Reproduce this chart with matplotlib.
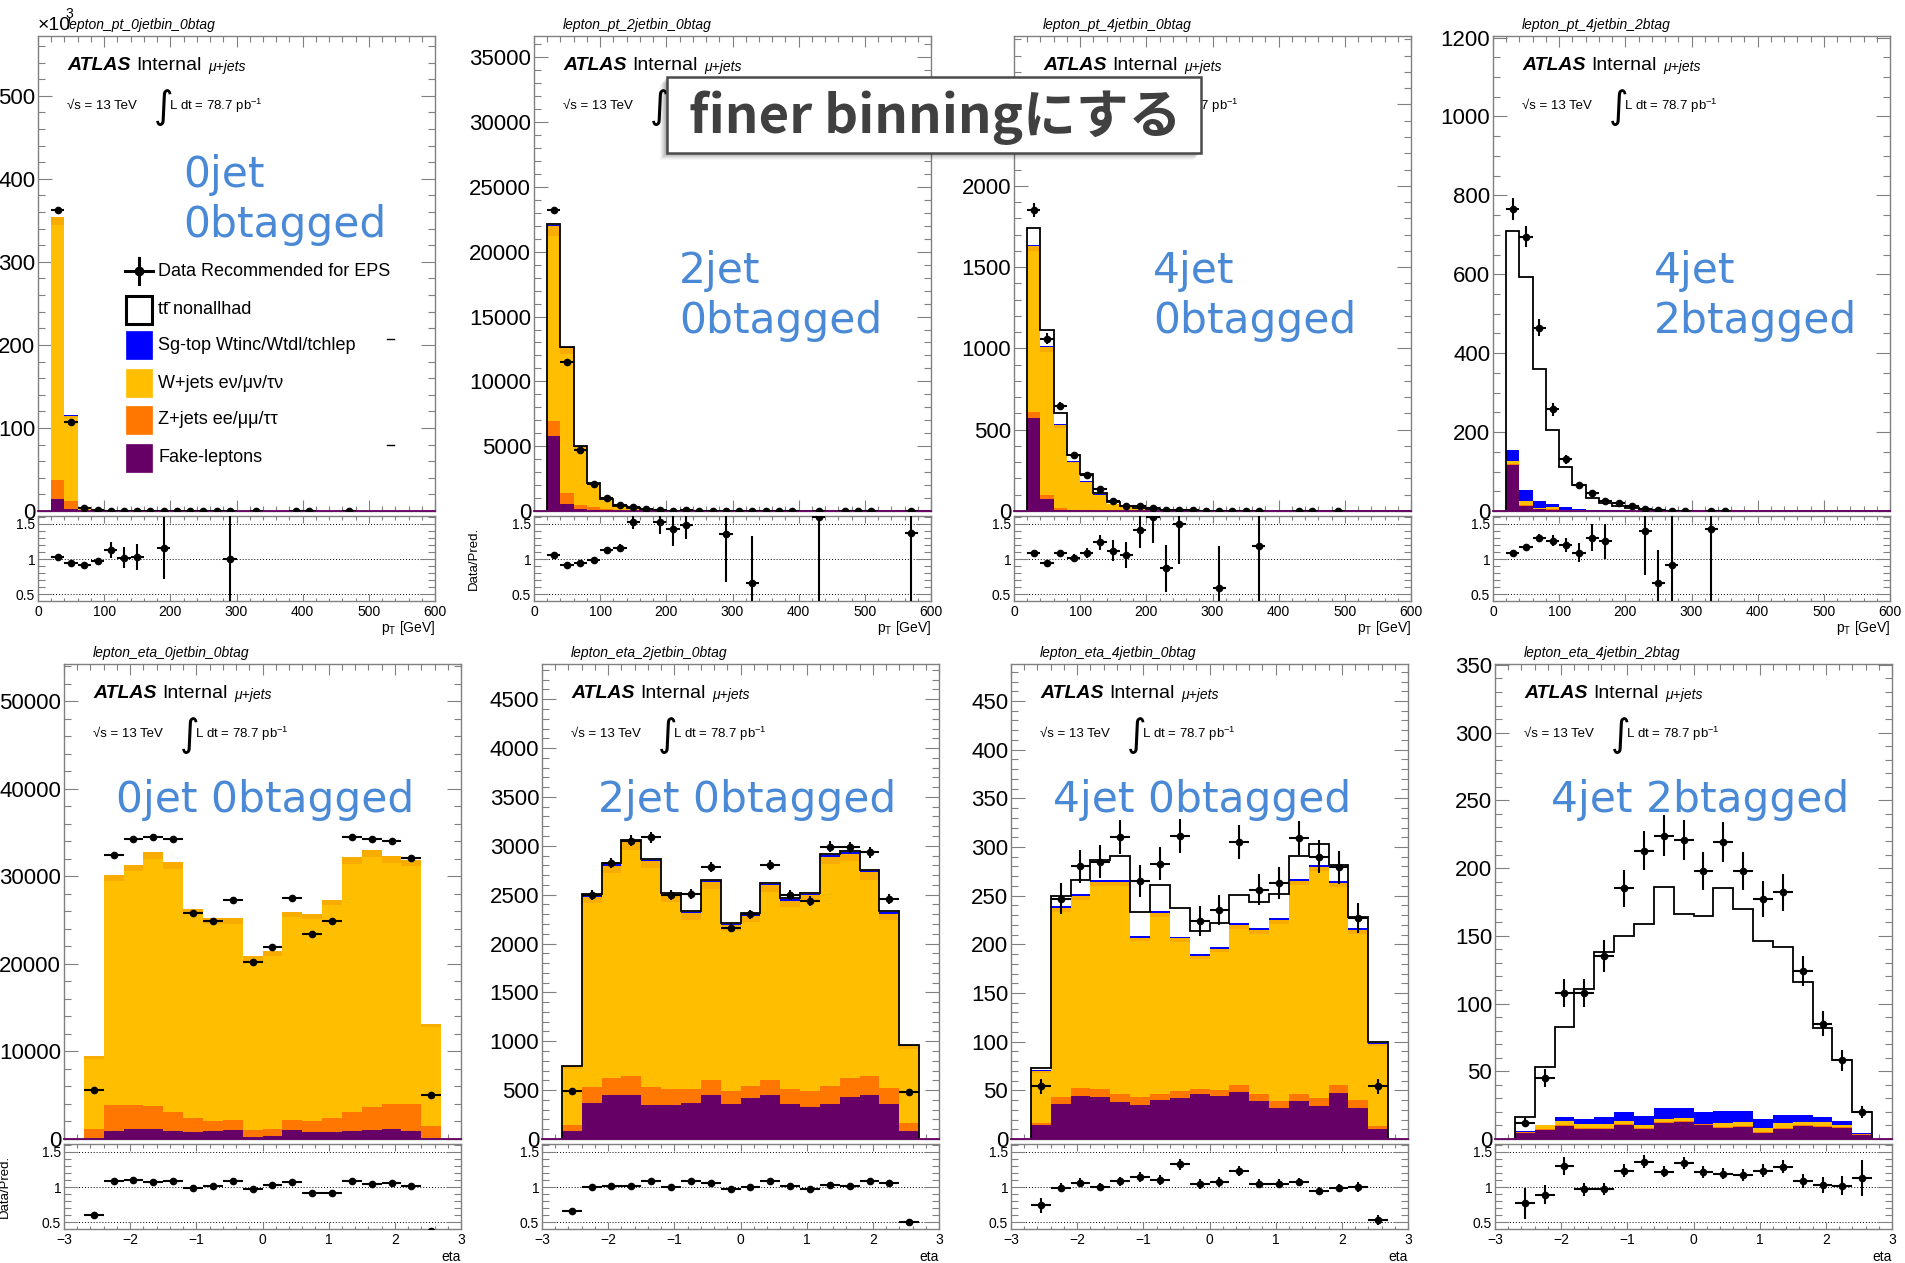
import numpy as np
import matplotlib
matplotlib.use("Agg")
import matplotlib.pyplot as plt
from matplotlib.ticker import MultipleLocator, FixedLocator, FuncFormatter
from matplotlib.patches import Rectangle

plt.rcParams['font.family'] = ['Liberation Sans', 'DejaVu Sans']
plt.rcParams['mathtext.fontset'] = 'custom'
plt.rcParams['mathtext.rm'] = 'Liberation Sans'
plt.rcParams['mathtext.it'] = 'Liberation Sans:italic'

nan = np.nan

# ---------------- data: lepton pT (20 GeV bins from 20 to 600) ----------------
pt_edges = np.arange(20, 601, 20)

pt_0j0b_data  = [363000, 107000, 3500, 850, 105, 46, 30, 6, 7, 4, 3, 2, 2, 2, 0, 1, 0, 0, 1, 1, 0, 0, 1]
pt_0j0b_ratio = [1.03, 0.94, 0.91, 0.97, 1.13, 1.02, 1.03, nan, 1.16, nan, nan, nan, nan, 1.00]
pt_0j0b_fake  = [14700, 2500, 300, 60, 8, 3, 2, 0, 1]
pt_0j0b_zjets = [23200, 9300, 700, 150, 15, 8, 5, 0, 1]
pt_0j0b_wjets = [307000, 100000, 2700, 630, 65, 32, 21, 0, 4, 0, 0, 0, 0, 2]
pt_0j0b_other = [9000, 3200, 150, 30, 4, 2, 1]
pt_0j0b_sgtop = [150, 60, 20, 6, 1]
pt_0j0b_ttbar = [80, 50, 20, 8, 2]

pt_2j0b_data  = [23239, 11509, 4717, 2107, 1000, 470, 300, 150, 80, 38, 55, 20, 12, 4, 5, 1, 3, 2, 2, 0,
                 1, 0, 1, 1, 1, 0, 0, 2]
pt_2j0b_ratio = [1.06, 0.91, 0.94, 0.99, 1.13, 1.16, 1.52, nan, 1.52, 1.42, 1.48, nan, nan, 1.35, nan, 0.66,
                 nan, nan, nan, nan, 1.59, nan, nan, nan, nan, nan, nan, 1.37]
pt_2j0b_fake  = [5786, 535, 126, 40, 15, 6, 3, 1]
pt_2j0b_zjets = [1132, 849, 314, 243, 142, 60, 25, 10, 4, 2, 1]
pt_2j0b_wjets = [14277, 10691, 4300, 1770, 700, 320, 160, 80, 45, 23, 34, 0, 0, 3, 0, 1.5, 0, 0, 0, 0,
                 0.6, 0, 0, 0, 0, 0, 0, 1.5]
pt_2j0b_other = [818, 504, 230, 80, 30, 12, 6, 3, 1.5, 1, 1]
pt_2j0b_sgtop = [70, 40, 18, 8, 3, 2, 1, 0.5, 0.3]
pt_2j0b_ttbar = [40, 25, 12, 5, 2, 1, 0.5, 0.3, 0.2]

pt_4j0b_data  = [1854, 1059, 645, 344, 223, 135, 60, 32, 30, 18, 7, 7, 5, 2, 1, 1, 1, 2, 0, 0, 1, 1, 0, 1]
pt_4j0b_ratio = [1.08, 0.95, 1.09, 1.02, 1.09, 1.24, 1.12, 1.06, 1.41, 1.60, 0.87, 1.49, nan, nan, 0.59,
                 nan, nan, 1.19]
pt_4j0b_fake  = [570, 73, 9, 4, 2, 1, 0.5, 0.3]
pt_4j0b_zjets = [37, 27, 11, 5, 3, 2, 1, 0.5, 0.3]
pt_4j0b_wjets = [993, 880, 490, 285, 170, 94, 41, 23, 13, 7, 6, 3.5, 0, 0, 1.7, 0, 0, 1.7]
pt_4j0b_other = [28, 28, 17, 8, 6, 3, 1.5, 1, 0.5, 0.3]
pt_4j0b_sgtop = [8, 6, 8, 5, 3, 3, 2, 1, 1, 0.5]
pt_4j0b_ttbar = [105, 100, 65, 37, 41, 6, 8, 4, 6, 3.5, 2, 1.2]

pt_4j2b_data  = [765, 695, 465, 258, 131, 66, 46, 25, 21, 12, 5, 2, 1, 1, 0, 1, 1]
pt_4j2b_ratio = [1.08, 1.17, 1.30, 1.26, 1.20, 1.09, 1.30, 1.25, nan, nan, 1.40, 0.66, 0.91, nan, nan, 1.42]
pt_4j2b_fake  = [116, 12, 4, 3, 1, 0.5, 0.3, 0.2]
pt_4j2b_zjets = [2, 2, 1, 1, 0.5, 0.3]
pt_4j2b_wjets = [8, 11, 3, 5, 2, 1, 0.5, 0.5, 0.3, 0.2]
pt_4j2b_other = [0]
pt_4j2b_sgtop = [29, 27, 17, 9, 7, 4, 3, 2, 1, 0.5, 0.3, 0.2]
pt_4j2b_ttbar = [554, 542, 334, 188, 100, 60, 30, 18, 11, 7, 3.2, 2.8, 1.1, 1, 0, 0.7]

# ---------------- data: lepton eta (0.3 bins from -2.7 to 2.7), stack tops ----------------
eta_edges = np.round(np.arange(-2.7, 2.71, 0.3), 2)

eta_0j0b_data  = [5632, 32410, 34300, 34490, 34210, 25760, 24930, 27330, 20270, 21880, 27560, 23450,
                  24930, 34440, 34300, 33980, 32040, 5030]
eta_0j0b_ratio = [0.61, 1.08, 1.10, 1.07, 1.09, 0.99, 1.02, 1.09, 0.98, 1.03, 1.07, 0.91, 0.91, 1.08,
                  1.05, 1.06, 1.01, 0.38]
eta_0j0b_fake_top = [140, 880, 1150, 1110, 920, 780, 880, 1060, 230, 370, 1060, 780, 780, 920, 1060,
                     1150, 880, 90]
eta_0j0b_z_top = [1150, 3920, 3920, 3790, 3140, 2400, 2080, 2170, 1060, 1150, 2170, 2080, 2450, 3140,
                  3690, 3970, 3970, 1480]
eta_0j0b_w_top = [9100, 29450, 30600, 32000, 30850, 25650, 24600, 24600, 20350, 20950, 25300, 25080,
                  26700, 31450, 32200, 31550, 31150, 12800]
eta_0j0b_total = [9510, 30190, 31350, 32780, 31580, 26320, 25250, 25250, 20870, 21470, 25950, 25720,
                  27330, 32180, 32960, 32270, 31860, 13160]

eta_2j0b_data  = [492, 2496, 2822, 3054, 3087, 2500, 2508, 2785, 2161, 2298, 2806, 2496, 2434, 2992,
                  2983, 2934, 2455, 479]
eta_2j0b_ratio = [0.66, 1.00, 1.01, 1.01, 1.09, 1.00, 1.08, 1.06, 0.98, 1.00, 1.08, 1.01, 0.97, 1.03,
                  1.02, 1.08, 1.06, 0.50]
eta_2j0b_fake_top = [83, 364, 450, 446, 343, 347, 364, 455, 355, 417, 455, 355, 331, 355, 430, 455, 355, 83]
eta_2j0b_z_top = [145, 533, 624, 640, 533, 508, 512, 607, 488, 545, 607, 512, 492, 545, 624, 640, 521, 165]
eta_2j0b_w_top = [712, 2418, 2726, 2960, 2770, 2420, 2245, 2555, 2128, 2222, 2525, 2372, 2430, 2810,
                  2840, 2650, 2240, 918]
eta_2j0b_other_top = [742, 2478, 2796, 3036, 2842, 2487, 2310, 2627, 2188, 2286, 2594, 2438, 2496, 2887,
                      2920, 2727, 2307, 952]
eta_2j0b_sg_top = [748, 2492, 2810, 3050, 2856, 2500, 2323, 2641, 2200, 2298, 2608, 2451, 2509, 2901,
                   2934, 2740, 2320, 958]
eta_2j0b_total = [752, 2504, 2822, 3062, 2868, 2512, 2335, 2653, 2211, 2310, 2620, 2463, 2521, 2913,
                  2946, 2752, 2331, 963]

eta_4j0b_data  = [54, 247, 280, 285, 310, 265, 283, 311, 224, 235, 305, 256, 263, 309, 290, 279, 227, 54]
eta_4j0b_ratio = [0.74, 0.99, 1.06, 1.00, 1.08, 1.14, 1.10, 1.32, 1.05, 1.07, 1.23, 1.05, 1.05, 1.07,
                  0.95, 0.99, 1.00, 0.53]
eta_4j0b_fake_top = [14, 36, 44, 43, 38, 35, 40, 42, 46, 44, 48, 39, 32, 39, 34, 47, 32, 10]
eta_4j0b_z_top = [16, 43, 52, 51, 46, 43, 46, 49, 51, 50, 55, 46, 39, 46, 42, 55, 40, 13]
eta_4j0b_w_top = [68, 233, 246, 260, 260, 203, 228, 202, 185, 192, 216, 211, 221, 261, 275, 259, 211, 96]
eta_4j0b_other_top = [70, 237, 250, 264, 264, 207, 232, 206, 188, 195, 220, 215, 225, 265, 279, 263, 215, 98]
eta_4j0b_sg_top = [71, 239, 252, 266, 266, 209, 234, 208, 190, 197, 222, 217, 227, 267, 281, 265, 217, 99]
eta_4j0b_total = [73, 250, 266, 287, 291, 233, 261, 237, 214, 222, 251, 244, 252, 291, 303, 281, 228, 100]

eta_4j2b_data  = [12, 45, 108, 108, 135, 185, 213, 224, 221, 198, 219, 198, 177, 182, 124, 85, 58, 20]
eta_4j2b_ratio = [0.77, 0.89, 1.30, 0.97, 0.97, 1.23, 1.36, 1.22, 1.34, 1.21, 1.19, 1.17, 1.23, 1.29,
                  1.09, 1.03, 1.02, 1.13]
eta_4j2b_fake_top = [4.5, 6.6, 9.6, 7.5, 7.5, 10, 7.5, 12, 12.6, 10.5, 8.4, 9, 4.2, 7.5, 9.6, 9, 8, 3]
eta_4j2b_z_top = [5, 7.4, 10.4, 8.3, 8.3, 10.8, 8.3, 12.8, 13.4, 11.3, 9.2, 9.8, 5, 8.3, 10.4, 9.8, 8.8, 3.5]
eta_4j2b_w_top = [5.2, 10, 13, 11, 11, 13.5, 10, 14.4, 15.6, 11.4, 12, 12.6, 8.4, 12, 12.6, 12.6, 10.5, 3.9]
eta_4j2b_sg_top = [5.6, 10.5, 16, 15, 16, 20, 17, 23, 23, 20, 21, 21, 15, 18, 18, 16, 13.5, 4.5]
eta_4j2b_total = [16, 53, 83, 111, 138, 150, 159, 186, 166, 165, 185, 170, 146, 142, 116, 82, 58, 20]

titles = ['lepton_pt_0jetbin_0btag', 'lepton_pt_2jetbin_0btag', 'lepton_pt_4jetbin_0btag',
          'lepton_pt_4jetbin_2btag', 'lepton_eta_0jetbin_0btag', 'lepton_eta_2jetbin_0btag',
          'lepton_eta_4jetbin_0btag', 'lepton_eta_4jetbin_2btag']
region_labels = [['0jet', '0btagged'], ['2jet', '0btagged'], ['4jet', '0btagged'], ['4jet', '2btagged'],
                 ['0jet 0btagged'], ['2jet 0btagged'], ['4jet 0btagged'], ['4jet 2btagged']]
legend_labels = ['Data Recommended for EPS', 'tt\u0304 nonallhad', 'Sg-top Wtinc/Wtdl/tchlep',
                 'W+jets e\u03bd/\u03bc\u03bd/\u03c4\u03bd', 'Z+jets ee/\u03bc\u03bc/\u03c4\u03c4',
                 'Fake-leptons']

C_FAKE, C_Z, C_W, C_OTHER, C_SG, C_TT = '#660066', '#ff7700', '#ffbf00', '#f8ac00', '#0000ff', '#ffffff'
LAYER_COLS = [C_FAKE, C_Z, C_W, C_OTHER, C_SG, C_TT]
BLUE = '#4a89d6'
FRAME = '#808080'

W, H = 1905, 1263
fig = plt.figure(figsize=(W / 100, H / 100), dpi=100)


def fx(x):
    return x / W


def fy(y):
    return 1 - y / H


def pad(vals, n):
    v = list(vals)
    return np.array(v + [0] * (n - len(v)), dtype=float)


def pt_tops(comps):
    n = len(pt_edges) - 1
    return list(np.cumsum([pad(c, n) for c in comps], axis=0))


def style(a, ylen, xlen):
    for s in a.spines.values():
        s.set_color(FRAME)
        s.set_linewidth(1.0)
    a.tick_params(which='both', direction='in', top=True, right=True, colors=FRAME,
                  labelcolor='black', width=0.8)
    a.tick_params(axis='y', which='major', length=ylen * 0.72, pad=2)
    a.tick_params(axis='y', which='minor', length=ylen * 0.36)
    a.tick_params(axis='x', which='major', length=xlen * 0.72, pad=3)
    a.tick_params(axis='x', which='minor', length=xlen * 0.36)


def panel(left, top, edges, tops, data, ratio, ylim, ymaj, ymin, xlim, xmaj, xmin,
          outline=True, kilo=False):
    width, main_h, ratio_h = 397, 475, 85
    ax = fig.add_axes([fx(left), fy(top + main_h), width / W, main_h / H])
    rax = fig.add_axes([fx(left), fy(top + main_h + 5 + ratio_h), width / W, ratio_h / H])
    centers = 0.5 * (edges[1:] + edges[:-1])
    halfw = 0.5 * (edges[1] - edges[0])

    base = np.zeros(len(centers))
    for t, col in zip(tops, LAYER_COLS):
        t = np.asarray(t, float)
        ax.stairs(t, edges, baseline=base, fill=True, color=col, lw=0, zorder=2)
        base = t
    if outline:
        ax.stairs(np.asarray(tops[-1], float), edges, baseline=0, fill=False,
                  color='black', lw=1.3, zorder=2.2)
    ax.plot(xlim, [0, 0], color=C_FAKE, lw=1.3, zorder=3, clip_on=False)

    d = pad(data, len(centers))
    m = d > 0
    ax.errorbar(centers[m], d[m], xerr=halfw, yerr=np.sqrt(d[m]), fmt='o', color='black',
                ms=4.5, elinewidth=1.5, capsize=0, zorder=5)
    ax.set_xlim(*xlim)
    ax.set_ylim(0, ylim)
    ax.yaxis.set_major_locator(MultipleLocator(ymaj))
    ax.yaxis.set_minor_locator(MultipleLocator(ymin))
    ax.xaxis.set_major_locator(MultipleLocator(xmaj))
    ax.xaxis.set_minor_locator(MultipleLocator(xmin))
    ax.tick_params(axis='x', labelbottom=False)
    ax.tick_params(axis='y', labelsize=16)
    if kilo:
        ax.yaxis.set_major_formatter(FuncFormatter(lambda v, p: '%d' % round(v / 1000)))
    else:
        ax.yaxis.set_major_formatter(FuncFormatter(lambda v, p: '%d' % round(v)))
    style(ax, 14, 11)

    r = pad(ratio, len(centers))
    r[len(list(ratio)):] = nan
    mr = ~np.isnan(r) & (d > 0)
    for yv in (0.5, 1.0, 1.5):
        rax.axhline(yv, color='black', ls=(0, (1, 2)), lw=0.7, zorder=1)
    rax.errorbar(centers[mr], r[mr], xerr=halfw, yerr=r[mr] / np.sqrt(d[mr]), fmt='o',
                 color='black', ms=4.5, elinewidth=1.5, capsize=0, zorder=5)
    rax.set_xlim(*xlim)
    rax.set_ylim(0.407, 1.61)
    rax.yaxis.set_major_locator(FixedLocator([0.5, 1.0, 1.5]))
    rax.yaxis.set_major_formatter(FuncFormatter(lambda v, p: {0.5: '0.5', 1.0: '1', 1.5: '1.5'}.get(round(v, 1), '')))
    rax.yaxis.set_minor_locator(MultipleLocator(0.1))
    rax.xaxis.set_major_locator(MultipleLocator(xmaj))
    rax.xaxis.set_minor_locator(MultipleLocator(xmin))
    rax.tick_params(labelsize=10)
    style(rax, 14, 7)
    return ax, rax


def decorate(left, top, title, lines, lab_x, lab_y, line_gap=50):
    fig.text(fx(left + 29), fy(top - 11), title, fontsize=10, style='italic', va='center', ha='left')
    fig.text(fx(left + 29), fy(top + 29), 'ATLAS', fontsize=14, weight='bold', style='italic',
             va='center', ha='left')
    fig.text(fx(left + 98), fy(top + 29), 'Internal', fontsize=14, va='center', ha='left')
    fig.text(fx(left + 170), fy(top + 31), '\u03bc+jets', fontsize=10, style='italic',
             va='center', ha='left')
    fig.text(fx(left + 29), fy(top + 70), '\u221as = 13 TeV', fontsize=9.5, va='center', ha='left')
    fig.text(fx(left + 116), fy(top + 72), '\u222b', fontsize=27, family='DejaVu Sans',
             va='center', ha='left')
    fig.text(fx(left + 131), fy(top + 70), r'L dt = 78.7 pb$^{-1}$', fontsize=9.5,
             va='center', ha='left')
    for i, s in enumerate(lines):
        fig.text(fx(lab_x), fy(lab_y + i * line_gap), s, fontsize=30.5, color=BLUE,
                 family='DejaVu Sans', va='center', ha='left')


pt_xlim, eta_xlim = (0, 600), (-3, 3)
top_lefts = [38, 534, 1014, 1493]
bot_lefts = [64, 542, 1011, 1495]
TOP_Y, BOT_Y = 36, 664

pt_sets = [
    (pt_tops([pt_0j0b_fake, pt_0j0b_zjets, pt_0j0b_wjets, pt_0j0b_other, pt_0j0b_sgtop, pt_0j0b_ttbar]),
     pt_0j0b_data, pt_0j0b_ratio, 572000, 100000, 20000, False, True),
    (pt_tops([pt_2j0b_fake, pt_2j0b_zjets, pt_2j0b_wjets, pt_2j0b_other, pt_2j0b_sgtop, pt_2j0b_ttbar]),
     pt_2j0b_data, pt_2j0b_ratio, 36640, 5000, 1000, True, False),
    (pt_tops([pt_4j0b_fake, pt_4j0b_zjets, pt_4j0b_wjets, pt_4j0b_other, pt_4j0b_sgtop, pt_4j0b_ttbar]),
     pt_4j0b_data, pt_4j0b_ratio, 2921, 500, 100, True, False),
    (pt_tops([pt_4j2b_fake, pt_4j2b_zjets, pt_4j2b_wjets, pt_4j2b_other, pt_4j2b_sgtop, pt_4j2b_ttbar]),
     pt_4j2b_data, pt_4j2b_ratio, 1204, 200, 50, True, False),
]
eta_sets = [
    ([eta_0j0b_fake_top, eta_0j0b_z_top, eta_0j0b_w_top, eta_0j0b_total, eta_0j0b_total, eta_0j0b_total],
     eta_0j0b_data, eta_0j0b_ratio, 54250, 10000, 2000, False),
    ([eta_2j0b_fake_top, eta_2j0b_z_top, eta_2j0b_w_top, eta_2j0b_other_top, eta_2j0b_sg_top, eta_2j0b_total],
     eta_2j0b_data, eta_2j0b_ratio, 4860, 500, 100, True),
    ([eta_4j0b_fake_top, eta_4j0b_z_top, eta_4j0b_w_top, eta_4j0b_other_top, eta_4j0b_sg_top, eta_4j0b_total],
     eta_4j0b_data, eta_4j0b_ratio, 488, 50, 10, True),
    ([eta_4j2b_fake_top, eta_4j2b_z_top, eta_4j2b_w_top, eta_4j2b_w_top, eta_4j2b_sg_top, eta_4j2b_total],
     eta_4j2b_data, eta_4j2b_ratio, 350.7, 50, 10, True),
]

pt_lab_pos = [(183, 175), (679, 271), (1153, 271), (1654, 271)]
eta_lab_pos = [(116, 800), (598, 800), (1053, 800), (1551, 800)]

for i, (tops, data, ratio, ylim, ymaj, ymin, outl, kilo) in enumerate(pt_sets):
    left = top_lefts[i]
    panel(left, TOP_Y, pt_edges, tops, data, ratio, ylim, ymaj, ymin, pt_xlim, 100, 20,
          outline=outl, kilo=kilo)
    decorate(left, TOP_Y, titles[i], region_labels[i], *pt_lab_pos[i])
    fig.text(fx(left + 397), fy(628), r'p$_{\rm T}$ [GeV]', fontsize=10, ha='right', va='center')

for i, (tops, data, ratio, ylim, ymaj, ymin, outl) in enumerate(eta_sets):
    left = bot_lefts[i]
    panel(left, BOT_Y, eta_edges, tops, data, ratio, ylim, ymaj, ymin, eta_xlim, 1, 0.2,
          outline=outl)
    decorate(left, BOT_Y, titles[4 + i], region_labels[4 + i], *eta_lab_pos[i])
    fig.text(fx(left + 397), fy(1257), 'eta', fontsize=10, ha='right', va='center')

# "x10^3" of the first panel
fig.text(fx(38), fy(26), '\u00d710', fontsize=14, ha='left', va='center')
fig.text(fx(65), fy(14), '3', fontsize=10, ha='left', va='center')

# ratio axis labels that are visible
fig.text(fx(474), fy(558), 'Data/Pred.', fontsize=9.5, rotation=90, ha='center', va='center')
fig.text(fx(5), fy(1186), 'Data/Pred.', fontsize=9.5, rotation=90, ha='center', va='center')

# legend (first panel)
leg_y = [271, 310, 345, 383, 420, 458]
lx0, lx1 = 125, 153
fig.add_artist(plt.Line2D([fx(lx0), fx(lx1)], [fy(leg_y[0]), fy(leg_y[0])], color='black', lw=2.2))
fig.add_artist(plt.Line2D([fx(139), fx(139)], [fy(leg_y[0] - 13), fy(leg_y[0] + 13)], color='black', lw=2.2))
fig.add_artist(plt.Line2D([fx(139)], [fy(leg_y[0])], marker='o', color='black', ms=6))
for yc, col in zip(leg_y[1:], [C_TT, C_SG, C_W, C_Z, C_FAKE]):
    ec = 'black' if col == C_TT else col
    lw = 2.2 if col == C_TT else 0.5
    fig.add_artist(Rectangle((fx(lx0 + 1), fy(yc + 14)), 26 / W, 28 / H, transform=fig.transFigure,
                             facecolor=col, edgecolor=ec, lw=lw))
for yc, s in zip(leg_y, legend_labels):
    fig.text(fx(158), fy(yc), s, fontsize=13, ha='left', va='center')
for yc in (339, 445):
    fig.add_artist(plt.Line2D([fx(387), fx(394)], [fy(yc), fy(yc)], color='black', lw=1))

# annotation box laid over the panels
bx0, by0, bx1, by1 = 667, 77, 1201, 153
for k, a in zip(range(7, 0, -1), [0.03, 0.04, 0.05, 0.06, 0.07, 0.08, 0.09]):
    fig.add_artist(Rectangle((fx(bx0 - k), fy(by1 + k)), (bx1 - bx0) / W, (by1 - by0) / H,
                             transform=fig.transFigure, facecolor='black', edgecolor='none',
                             alpha=a, zorder=20))
fig.add_artist(Rectangle((fx(bx0), fy(by1)), (bx1 - bx0) / W, (by1 - by0) / H, transform=fig.transFigure,
                         facecolor='white', edgecolor='#4a4a4a', lw=1.8, zorder=21))
fig.text(fx(689), fy(133), 'finer binningにする', fontsize=38, weight='bold', color='#404040',
         family=['Noto Sans CJK JP', 'DejaVu Sans'], ha='left', va='baseline', zorder=22)

fig.savefig('out.png', dpi=100, facecolor='white')
